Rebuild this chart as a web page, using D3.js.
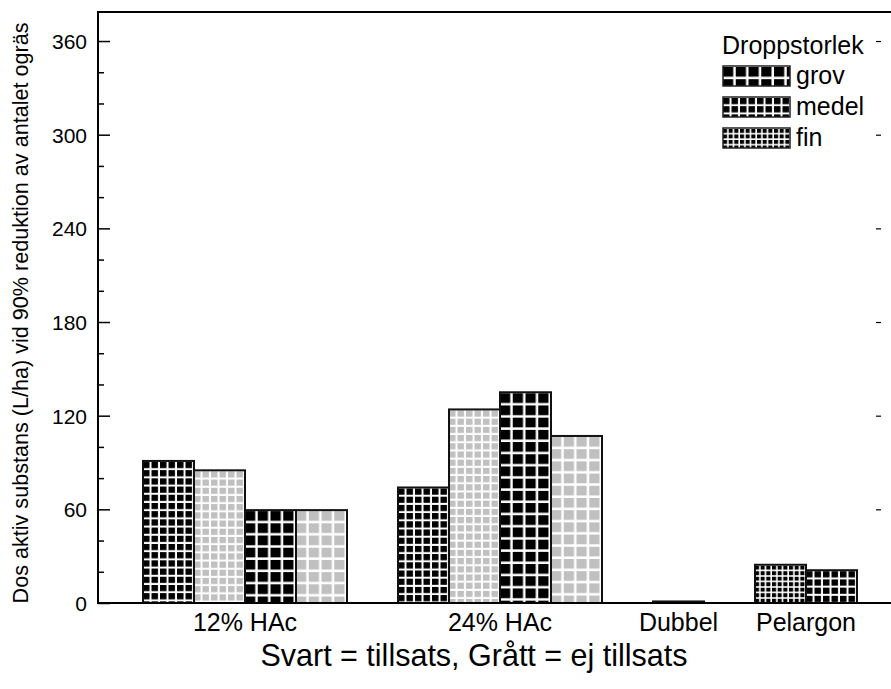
<!DOCTYPE html>
<html>
<head>
<meta charset="utf-8">
<script src="https://cdn.jsdelivr.net/npm/d3@7"></script>
<style>
  body { margin: 0; background: #fff; }
  text { font-family: "Liberation Sans", Arial, sans-serif; fill: #000; }
</style>
</head>
<body>
<div id="chart"></div>
<script>
// Data
const groups = ["12% HAc", "24% HAc", "Dubbel", "Pelargon"];
const barGroup = [0, 0, 0, 0, 1, 1, 1, 1, 2, 3, 3];
const barSize = ["medel", "medel", "grov", "grov", "medel", "medel", "grov", "grov", "grov", "fin", "medel"];
const barShade = ["svart", "grå", "svart", "grå", "svart", "grå", "svart", "grå", "svart", "svart", "svart"];
const barValues = [91, 85, 59.5, 59.5, 74, 124, 135, 107, 1, 24.5, 21];
const legendSizes = ["grov", "medel", "fin"];
const yMajor = [0, 60, 120, 180, 240, 300, 360];

// Plot configuration
const width = 891, height = 689;
const plot = { left: 98, right: 893, top: 12, bottom: 603 };
const cell = { grov: [12.75, 12.2, 2.5], medel: [8.5, 8.2, 2], fin: [5.67, 5.5, 1.6] };
const shadeColor = { "svart": "#000", "grå": "#c0c0c0" };

const svg = d3.select("#chart").append("svg").attr("width", width).attr("height", height);
svg.append("rect").attr("width", width).attr("height", height).attr("fill", "#fff");
const defs = svg.append("defs");

const y = d3.scaleLinear().domain([0, 378.6]).range([plot.bottom, plot.top]);

// one gap slot after every group
const slots = [];
let s = 0;
groups.forEach((g, gi) => {
  barGroup.forEach((bg, i) => { if (bg === gi) slots[i] = s++; });
  s++;
});
const x = d3.scaleBand().domain(d3.range(14)).range([143, 857]).padding(0);

function makePattern(id, size, color, x0, y0) {
  const [pw, ph, lw] = cell[size];
  const p = defs.append("pattern").attr("id", id).attr("patternUnits", "userSpaceOnUse")
    .attr("x", x0).attr("y", y0).attr("width", pw).attr("height", ph);
  p.append("rect").attr("width", pw).attr("height", ph).attr("fill", color);
  p.append("rect").attr("x", pw - lw).attr("width", lw).attr("height", ph).attr("fill", "#fff");
  p.append("rect").attr("y", ph - lw).attr("width", pw).attr("height", lw).attr("fill", "#fff");
}

// Bars
const bars = barValues.map((v, i) => ({ v, i, size: barSize[i], shade: barShade[i], slot: slots[i] }));
bars.forEach(d => makePattern("bar" + d.i, d.size, shadeColor[d.shade], x(d.slot), y(d.v) + 1));

svg.append("g")
  .selectAll("rect")
  .data(bars)
  .enter().append("rect")
  .attr("x", d => x(d.slot))
  .attr("y", d => y(d.v))
  .attr("width", x.bandwidth())
  .attr("height", d => y(0) - y(d.v))
  .attr("fill", d => `url(#bar${d.i})`)
  .attr("stroke", "#111")
  .attr("stroke-width", 2);

// Frame
svg.append("path")
  .attr("d", `M${plot.right},${plot.top}H${plot.left}V${plot.bottom}H${plot.right}`)
  .attr("fill", "none").attr("stroke", "#000").attr("stroke-width", 2);

// Left axis, ticks pointing inward
const major = svg.append("g").attr("transform", `translate(${plot.left},0)`)
  .call(d3.axisLeft(y).tickValues(yMajor).tickSizeInner(-12).tickSizeOuter(0).tickPadding(11));
major.select(".domain").remove();
major.selectAll("line").attr("stroke", "#000").attr("stroke-width", 1.5);
major.selectAll("text").style("font-size", "21px").attr("font-family", null).attr("dy", "0.36em");

const minorVals = d3.range(20, 380, 20).filter(v => v % 60 !== 0);
const minor = svg.append("g").attr("transform", `translate(${plot.left},0)`)
  .call(d3.axisLeft(y).tickValues(minorVals).tickSizeInner(-6).tickSizeOuter(0).tickFormat(""));
minor.select(".domain").remove();
minor.selectAll("line").attr("stroke", "#000").attr("stroke-width", 1.5);

// Right-hand tick stubs
const rightAx = svg.append("g").attr("transform", "translate(876,0)")
  .call(d3.axisRight(y).tickValues(yMajor.slice(1)).tickSizeInner(5).tickSizeOuter(0).tickFormat(""));
rightAx.select(".domain").remove();
rightAx.selectAll("line").attr("stroke", "#000").attr("stroke-width", 1.2);

// Category labels
groups.forEach((g, gi) => {
  const idx = barGroup.map((bg, i) => bg === gi ? i : -1).filter(i => i >= 0);
  const cx = d3.mean(idx, i => x(slots[i]) + x.bandwidth() / 2);
  svg.append("text").attr("x", cx).attr("y", 631)
    .attr("text-anchor", "middle").style("font-size", "25px").text(g);
});

// Axis titles
svg.append("text").attr("x", 474).attr("y", 666)
  .attr("text-anchor", "middle").style("font-size", "30.5px")
  .text("Svart = tillsats, Grått = ej tillsats");

svg.append("text").attr("transform", "translate(28,313) rotate(-90)")
  .attr("text-anchor", "middle").style("font-size", "21.6px")
  .text("Dos aktiv substans (L/ha) vid 90% reduktion av antalet ogräs");

// Legend
const legend = svg.append("g");
legend.append("text").attr("x", 722).attr("y", 54).style("font-size", "25px").text("Droppstorlek");
legendSizes.forEach((sz, k) => {
  const ly = 66 + k * 31;
  makePattern("leg" + k, sz, "#000", 723, ly + 1);
  legend.append("rect").attr("x", 723).attr("y", ly).attr("width", 67).attr("height", 20)
    .attr("fill", `url(#leg${k})`).attr("stroke", "#222").attr("stroke-width", 1.5);
  legend.append("text").attr("x", 796).attr("y", ly + 18).style("font-size", "25px").text(sz);
});
</script>
</body>
</html>
